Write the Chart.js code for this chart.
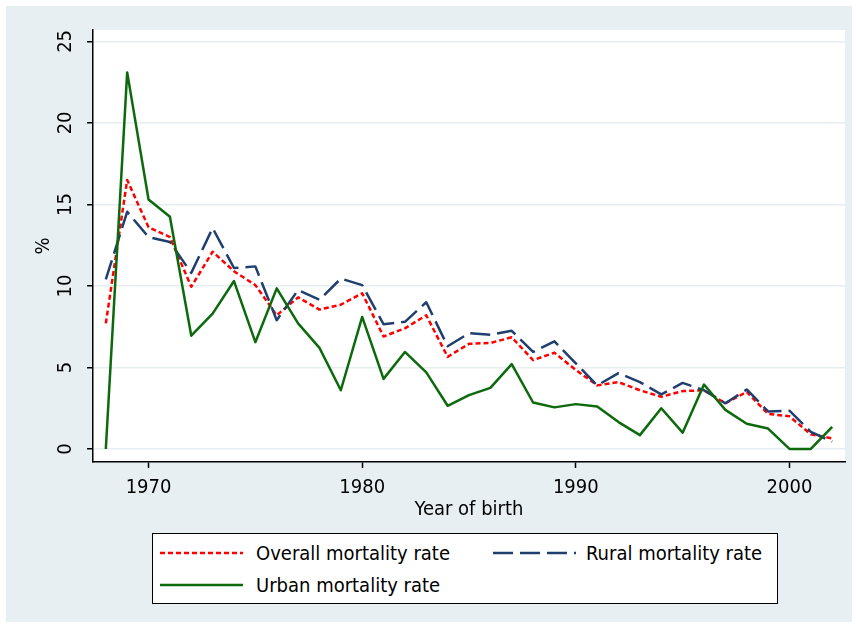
<!DOCTYPE html>
<html>
<head>
<meta charset="utf-8">
<script src="https://cdn.jsdelivr.net/npm/chart.js@4.4.1/dist/chart.umd.min.js"></script>
<style>
  body { margin: 0; background: #fff; }
  #wrap { position: absolute; left: 6px; top: 6px; width: 846px; height: 616px; background: #e8eff2; }
  #legend { position: absolute; left: 146px; top: 527px; width: 624px; height: 69px; border: 1px solid #000; background: #fff;
            font-family: 'DejaVu Sans Condensed', 'Liberation Sans Narrow', 'DejaVu Sans', sans-serif; font-size: 20px; color: #000; }
  #legend span { position: absolute; white-space: nowrap; line-height: 20px; transform: translateY(-50%); }
  #legend svg { position: absolute; overflow: visible; }
</style>
</head>
<body>
<div id="wrap">
  <canvas id="chart" width="846" height="616"></canvas>
  <div id="legend">
    <svg style="left:7px;top:19px" width="83" height="1"><line x1="0" y1="0" x2="83" y2="0" stroke="#ff0000" stroke-width="2.5" stroke-dasharray="5 3"/></svg>
    <span style="left:103px;top:19px">Overall mortality rate</span>
    <svg style="left:340px;top:19px" width="83" height="1"><line x1="0" y1="0" x2="83" y2="0" stroke="#1f3f6e" stroke-width="2.5" stroke-dasharray="20 7"/></svg>
    <span style="left:433px;top:19px">Rural mortality rate</span>
    <svg style="left:7px;top:51px" width="83" height="1"><line x1="0" y1="0" x2="83" y2="0" stroke="#0c6a0c" stroke-width="2.5"/></svg>
    <span style="left:103px;top:51px">Urban mortality rate</span>
  </div>
</div>
<script>
const years = [1968, 1969, 1970, 1971, 1972, 1973, 1974, 1975, 1976, 1977,
               1978, 1979, 1980, 1981, 1982, 1983, 1984, 1985, 1986, 1987,
               1988, 1989, 1990, 1991, 1992, 1993, 1994, 1995, 1996, 1997,
               1998, 1999, 2000, 2001, 2002];
const overallRate = [7.7, 16.5, 13.6, 13.0, 9.95, 12.1, 10.9, 10.05, 8.2, 9.3,
                     8.55, 8.85, 9.55, 6.9, 7.4, 8.2, 5.65, 6.45, 6.5, 6.85,
                     5.45, 5.9, 4.85, 3.9, 4.1, 3.6, 3.2, 3.55, 3.6, 2.8,
                     3.5, 2.15, 2.0, 0.9, 0.65];
const ruralRate = [10.4, 14.55, 13.0, 12.7, 10.8, 13.55, 11.1, 11.2, 7.9, 9.75,
                   9.15, 10.45, 10.05, 7.65, 7.8, 9.0, 6.3, 7.1, 7.0, 7.25,
                   5.95, 6.6, 5.25, 3.9, 4.65, 4.1, 3.35, 4.05, 3.6, 2.8,
                   3.65, 2.3, 2.35, 1.05, 0.45];
const urbanRate = [0, 23.1, 15.3, 14.25, 6.95, 8.3, 10.3, 6.55, 9.85, 7.7,
                   6.2, 3.6, 8.1, 4.3, 5.95, 4.7, 2.65, 3.3, 3.75, 5.2,
                   2.85, 2.55, 2.75, 2.6, 1.65, 0.85, 2.5, 1.0, 3.95, 2.4,
                   1.55, 1.25, 0, 0, 1.35];
const xTicks = [1970, 1980, 1990, 2000];
const yTicks = [0, 5, 10, 15, 20, 25];

const FONT = "'DejaVu Sans Condensed', 'Liberation Sans Narrow', 'DejaVu Sans', sans-serif";
const font = { family: FONT, size: 20 };

function points(values) {
  return years.map((yr, i) => ({ x: yr, y: values[i] }));
}

// white plot region on the grey graph background
const plotBg = {
  id: 'plotBg',
  beforeDraw(chart) {
    const { ctx, chartArea: a } = chart;
    ctx.save();
    ctx.fillStyle = '#fff';
    ctx.fillRect(a.left, a.top, a.right - a.left, a.bottom - a.top);
    ctx.restore();
  }
};

new Chart(document.getElementById('chart'), {
  type: 'line',
  data: {
    datasets: [
      { label: 'Overall mortality rate', data: points(overallRate), borderColor: '#ff0000',
        borderDash: [5, 3], borderWidth: 2.5, order: 2 },
      { label: 'Rural mortality rate', data: points(ruralRate), borderColor: '#1f3f6e',
        borderDash: [20, 7], borderWidth: 2.5, order: 1 },
      { label: 'Urban mortality rate', data: points(urbanRate), borderColor: '#0c6a0c',
        borderWidth: 2.5, order: 0 }
    ]
  },
  options: {
    responsive: false,
    animation: false,
    devicePixelRatio: 1,
    elements: { point: { radius: 0 }, line: { tension: 0, fill: false, borderJoinStyle: 'round' } },
    layout: { padding: { top: 24, right: 7, left: 0, bottom: 0 } },
    plugins: { legend: { display: false }, tooltip: { enabled: false } },
    scales: {
      x: {
        type: 'linear', min: 1967.4, max: 2002.6,
        afterBuildTicks: s => { s.ticks = xTicks.map(v => ({ value: v })); },
        afterFit: s => { s.height = 160; },
        grid: { drawOnChartArea: false, tickLength: 6, tickColor: '#000', tickWidth: 1.5 },
        border: { color: '#000', width: 1.5 },
        ticks: { font, color: '#000', padding: 8, maxRotation: 0, autoSkip: false, callback: v => String(v) },
        title: { display: true, text: 'Year of birth', font, color: '#000', padding: { top: 0, bottom: 100 } }
      },
      y: {
        type: 'linear', min: -0.8, max: 25.7,
        afterBuildTicks: s => { s.ticks = yTicks.map(v => ({ value: v })); },
        afterFit: s => { s.width = 87; },
        grid: { color: '#e6eef1', lineWidth: 1.5, tickLength: 6, tickColor: '#000', tickWidth: 1.5 },
        border: { color: '#000', width: 1.5 },
        ticks: { font, color: '#000', minRotation: 90, maxRotation: 90, crossAlign: 'center', padding: 10, autoSkip: false,
                 callback: v => String(v) },
        title: { display: true, text: '%', font, color: '#000', padding: { top: 26, bottom: 0 } }
      }
    }
  },
  plugins: [plotBg]
});
</script>
</body>
</html>
